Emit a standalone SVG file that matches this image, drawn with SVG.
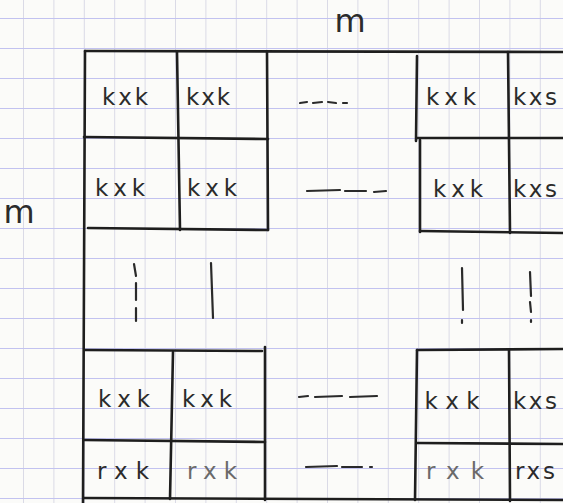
<svg xmlns="http://www.w3.org/2000/svg" width="563" height="503" viewBox="0 0 563 503">
<style>
.ln{fill:none;stroke:#1e1e1e;stroke-width:2.6;stroke-linecap:round;stroke-linejoin:round}
.dash{fill:none;stroke:#2a2a2a;stroke-width:2.2;stroke-linecap:round}
.t{font-family:"DejaVu Sans","Liberation Sans",sans-serif;font-size:23px;fill:#2b2b2b;text-anchor:middle}
.lt{fill:#6a6a6a}
.big{font-size:32px}
</style>
<defs>
<pattern id="grid" patternUnits="userSpaceOnUse" x="23" y="18" width="30.4" height="30">
<rect x="0" y="0" width="30.4" height="30" fill="none"/>
<line x1="0" y1="0" x2="0" y2="30" stroke="#d2d2e2" stroke-width="1.6"/>
<line x1="0" y1="0" x2="30.4" y2="0" stroke="#c2c2f0" stroke-width="2"/>
</pattern>
</defs>
<rect width="563" height="503" fill="#fbfbf9"/>
<rect width="563" height="503" fill="url(#grid)"/>

<g id="frame">
<path class="ln" d="M85 51 L563 52"/>
<path class="ln" d="M85 51 L83 503"/>
<path class="ln" d="M84 498 L563 500"/>
<!-- top-left block -->
<path class="ln" d="M177 52 L180 230"/>
<path class="ln" d="M267 52 L268 230"/>
<path class="ln" d="M84 137 L268 139"/>
<path class="ln" d="M88 228 L268 230"/>
<!-- top-right block -->
<path class="ln" d="M417 56 L416 141"/>
<path class="ln" d="M420 140 L420 232"/>
<path class="ln" d="M508 52 L510 233"/>
<path class="ln" d="M417 138 L563 138"/>
<path class="ln" d="M420 231 L563 233"/>
<!-- bottom-left block -->
<path class="ln" d="M85 350 L262 351"/>
<path class="ln" d="M265 347 L265 500"/>
<path class="ln" d="M173 352 L170 499"/>
<path class="ln" d="M84 440 L265 442"/>
<!-- bottom-right block -->
<path class="ln" d="M417 350 L563 349"/>
<path class="ln" d="M417 350 L415 500"/>
<path class="ln" d="M509 350 L510 501"/>
<path class="ln" d="M417 443 L563 444"/>
</g>

<g id="ellipsis">
<!-- horizontal -->
<path class="dash" d="M300 103 L307 102 M313 103 L322 102 M328 102 L336 103 M343 103 L347 103"/>
<path class="dash" d="M307 191 L340 190 M345 191 L366 191 M374 192 L386 191"/>
<path class="dash" d="M299 397 L308 396 M315 397 L342 396 M350 397 L377 396"/>
<path class="dash" d="M306 467 L337 466 M342 467 L362 467 M370 467 L372 467"/>
<!-- vertical -->
<path class="dash" d="M134 264 L136 276 M136 283 L136 300 M136 308 L136 321"/>
<path class="dash" d="M211 263 L213 318"/>
<path class="dash" d="M462 268 L463 310 M462 320 L462 323"/>
<path class="dash" d="M530 272 L531 296 M530 302 L531 312 M531 320 L531 322"/>
</g>

<g id="label-m-top"><text class="t big" x="350" y="32">m</text></g>
<g id="label-m-left"><text class="t big" x="19" y="223">m</text></g>

<g id="c11"><text class="t" x="125" y="105" textLength="46" lengthAdjust="spacing">kxk</text></g>
<g id="c12"><text class="t" x="208" y="105" textLength="44" lengthAdjust="spacing">kxk</text></g>
<g id="c1r1"><text class="t" x="451" y="105" textLength="50" lengthAdjust="spacing">kxk</text></g>
<g id="c1r2"><text class="t" x="535" y="105" textLength="44" lengthAdjust="spacing">kxs</text></g>

<g id="c21"><text class="t" x="120" y="196" textLength="50" lengthAdjust="spacing">kxk</text></g>
<g id="c22"><text class="t" x="212" y="196" textLength="50" lengthAdjust="spacing">kxk</text></g>
<g id="c2r1"><text class="t" x="458" y="197" textLength="50" lengthAdjust="spacing">kxk</text></g>
<g id="c2r2"><text class="t" x="535" y="197" textLength="44" lengthAdjust="spacing">kxs</text></g>

<g id="c31"><text class="t" x="124" y="407" textLength="52" lengthAdjust="spacing">kxk</text></g>
<g id="c32"><text class="t" x="207" y="407" textLength="50" lengthAdjust="spacing">kxk</text></g>
<g id="c3r1"><text class="t" x="452" y="409" textLength="55" lengthAdjust="spacing">kxk</text></g>
<g id="c3r2"><text class="t" x="535" y="409" textLength="44" lengthAdjust="spacing">kxs</text></g>

<g id="c41"><text class="t" x="123" y="479" textLength="52" lengthAdjust="spacing">rxk</text></g>
<g id="c42"><text class="t lt" x="212" y="479" textLength="50" lengthAdjust="spacing">rxk</text></g>
<g id="c4r1"><text class="t lt" x="455" y="479" textLength="58" lengthAdjust="spacing">rxk</text></g>
<g id="c4r2"><text class="t" x="535" y="479" textLength="40" lengthAdjust="spacing">rxs</text></g>
</svg>
